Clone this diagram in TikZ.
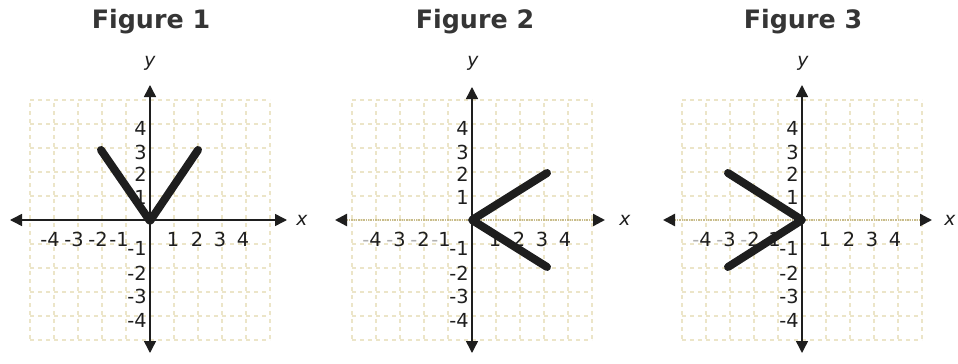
\documentclass[tikz,border=0pt]{standalone}
\usepackage{fontspec}
\setmainfont{DejaVu Sans}
\usetikzlibrary{arrows.meta}
\definecolor{gridtan}{RGB}{236,229,200}
\definecolor{axisdot}{RGB}{200,188,140}
\definecolor{ink}{RGB}{30,30,30}
\tikzset{
  grid line/.style={gridtan, line width=0.8pt, dash pattern=on 3pt off 3pt},
  axis/.style={ink, line width=1.1pt, {Triangle[length=9pt,width=9pt]}-{Triangle[length=9pt,width=9pt]}},
  dotaxis/.style={axisdot, line width=1.8pt, dash pattern=on 1pt off 0.8pt,
    {Triangle[length=9pt,width=9pt,color=ink,fill=ink]}-{Triangle[length=9pt,width=9pt,color=ink,fill=ink]}},
  vshape/.style={ink, line width=6pt, line cap=round, line join=round},
  num/.style={font=\fontsize{14.5}{15}\selectfont, inner sep=0pt, text=ink},
  ttl/.style={font=\fontsize{19}{21}\selectfont\bfseries, text=ink!90},
  axlabel/.style={font=\fontsize{14}{15}\selectfont\itshape, text=ink, inner sep=0pt}
}
\newcommand\gridpanel{%
  \foreach \k in {-5,...,5} {
    \draw[grid line] (\k*24,-117) -- (\k*24,119);
    \draw[grid line] (-120,\k*24) -- (120,\k*24);
  }}
\newcommand\ylabels[1]{%
  \node[num,anchor=east] (#1y4) at (-3,-92) {4};
  \node[num,anchor=east] (#1y3) at (-3,-68) {3};
  \node[num,anchor=east] (#1y2) at (-3,-46) {2};
  \node[num,anchor=east] (#1y1) at (-3,-23) {1};
  \node[num,anchor=east] (#1ym1) at (-3,28) {-1};
  \node[num,anchor=east] (#1ym2) at (-3,53) {-2};
  \node[num,anchor=east] (#1ym3) at (-3,76) {-3};
  \node[num,anchor=east] (#1ym4) at (-3,100) {-4};}
\newcommand\xlabels[2]{%
  \node[num,anchor=east] (#1xm4) at (-90,19) {{\color{#2}-}4};
  \node[num,anchor=east] (#1xm3) at (-66,19) {{\color{#2}-}3};
  \node[num,anchor=east] (#1xm2) at (-42,19) {{\color{#2}-}2};
  \node[num,anchor=east] (#1xm1) at (-21,19) {{\color{#2}-}1};
  \node[num] (#1x1) at (23,19) {1};
  \node[num] (#1x2) at (47,19) {2};
  \node[num] (#1x3) at (70,19) {3};
  \node[num] (#1x4) at (93,19) {4};}
\begin{document}
\begin{tikzpicture}[x=0.75pt,y=-0.75pt]
\useasboundingbox (0,0) rectangle (958,364);
\fill[white] (0,0) rectangle (958,364);
% titles
\node[ttl] (t1) at (151,22) {Figure 1};
\node[ttl] (t2) at (475,22) {Figure 2};
\node[ttl] (t3) at (803,22) {Figure 3};
% ---------- Figure 1
\begin{scope}[shift={(150,220)}]
  \gridpanel
  \coordinate (aL) at (-140,0); \coordinate (aR) at (137,0);
  \coordinate (aT) at (0,-135); \coordinate (aB) at (0,133);
  \draw[axis] (aL) -- (aR);
  \draw[axis] (aB) -- (aT);
  \node[axlabel] (f1x) at (152,0) {x};
  \node[axlabel] (f1yl) at (0,-157) {y};
  \ylabels{f1}
  \xlabels{f1}{ink}
  \coordinate (p1) at (-49,-70); \coordinate (o1) at (0,1); \coordinate (q1) at (48,-70);
  \draw[vshape] (p1) -- (o1) -- (q1);
\end{scope}
% ---------- Figure 2
\begin{scope}[shift={(472,220)}]
  \gridpanel
  \coordinate (bL) at (-137,0); \coordinate (bR) at (133,0);
  \coordinate (bT) at (0,-133); \coordinate (bB) at (0,133);
  \draw[dotaxis] (bL) -- (bR);
  \draw[axis] (bB) -- (bT);
  \node[axlabel] (f2x) at (153,0) {x};
  \node[axlabel] (f2yl) at (1,-157) {y};
  \ylabels{f2}
  \xlabels{f2}{ink!35}
  \coordinate (p2) at (75,-47); \coordinate (o2) at (0,0); \coordinate (q2) at (75,47);
  \draw[vshape] (p2) -- (o2) -- (q2);
\end{scope}
% ---------- Figure 3
\begin{scope}[shift={(802,220)}]
  \gridpanel
  \coordinate (cL) at (-139,0); \coordinate (cR) at (130,0);
  \coordinate (cT) at (0,-135); \coordinate (cB) at (0,133);
  \draw[dotaxis] (cL) -- (cR);
  \draw[axis] (cB) -- (cT);
  \node[axlabel] (f3x) at (148,0) {x};
  \node[axlabel] (f3yl) at (1,-157) {y};
  \ylabels{f3}
  \xlabels{f3}{ink!35}
  \coordinate (p3) at (-74,-47); \coordinate (o3) at (0,0); \coordinate (q3) at (-74,47);
  \draw[vshape] (p3) -- (o3) -- (q3);
\end{scope}
\end{tikzpicture}
\end{document}
